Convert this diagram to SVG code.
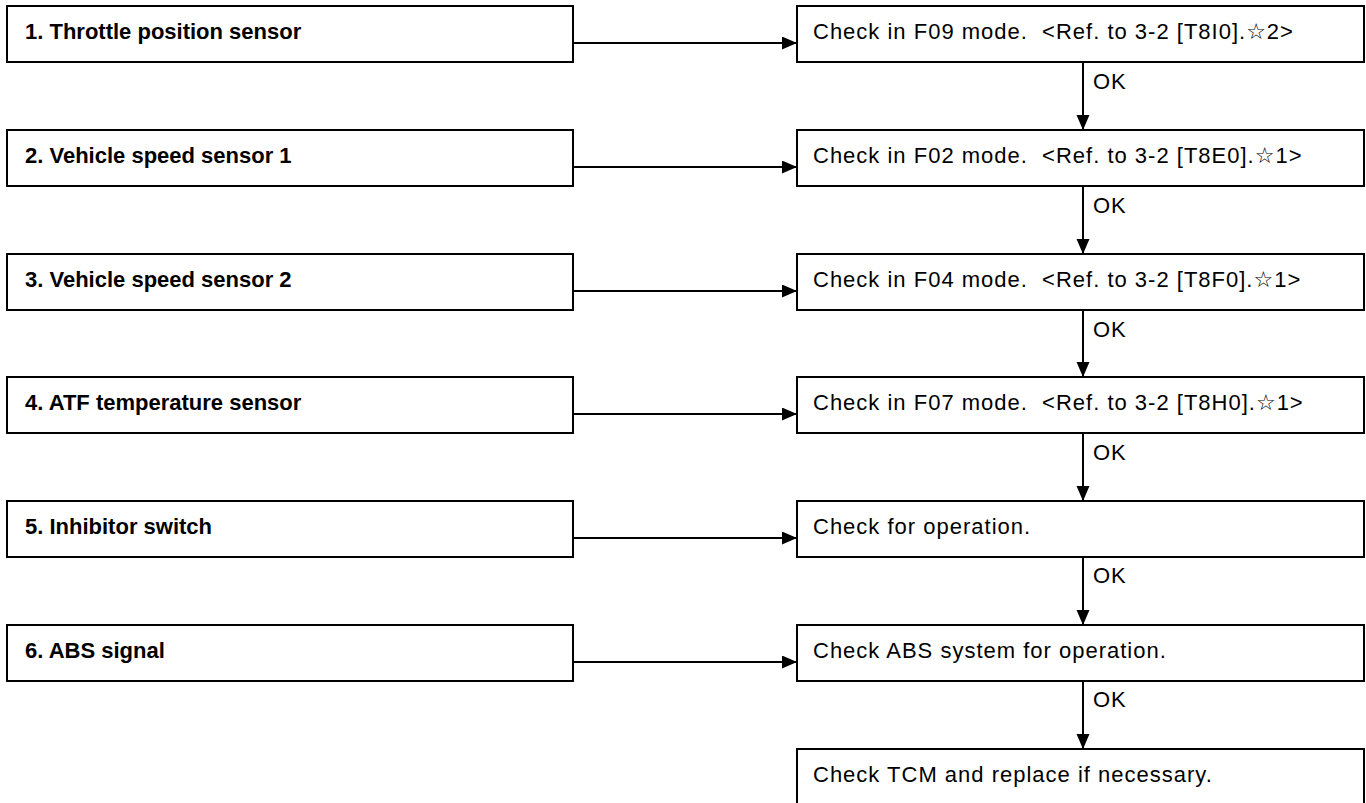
<svg xmlns="http://www.w3.org/2000/svg" width="1366" height="803" viewBox="0 0 1366 803">
<style>
.box{fill:#fff;stroke:#000;stroke-width:2}
.lt{font-family:"Liberation Sans","DejaVu Sans",Arial,sans-serif;font-size:22px;font-weight:bold;fill:#000}
.rt{font-family:"Liberation Sans","DejaVu Sans","Noto Sans CJK JP",Arial,sans-serif;font-size:22px;letter-spacing:1px;fill:#000;white-space:pre}
.ok{font-family:"Liberation Sans",Arial,sans-serif;font-size:22px;letter-spacing:1px;fill:#000}
.ln{stroke:#000;stroke-width:2;fill:none;marker-end:url(#ah)}
</style>
<defs>
<marker id="ah" markerUnits="userSpaceOnUse" markerWidth="16" markerHeight="14" refX="15" refY="6.5" orient="auto">
<path d="M0,0 L15,6.5 L0,13 Z" fill="#000"/>
</marker>
</defs>
<rect width="1366" height="803" fill="#fff"/>
<g id="connectors">
<line class="ln" x1="573" y1="43" x2="797" y2="43"/>
<line class="ln" x1="573" y1="167" x2="797" y2="167"/>
<line class="ln" x1="573" y1="291" x2="797" y2="291"/>
<line class="ln" x1="573" y1="414" x2="797" y2="414"/>
<line class="ln" x1="573" y1="538" x2="797" y2="538"/>
<line class="ln" x1="573" y1="662" x2="797" y2="662"/>
<line class="ln" x1="1083" y1="62" x2="1083" y2="130"/>
<line class="ln" x1="1083" y1="186" x2="1083" y2="254"/>
<line class="ln" x1="1083" y1="310" x2="1083" y2="377"/>
<line class="ln" x1="1083" y1="433" x2="1083" y2="501"/>
<line class="ln" x1="1083" y1="557" x2="1083" y2="625"/>
<line class="ln" x1="1083" y1="681" x2="1083" y2="749"/>
<text class="ok" x="1093" y="89">OK</text>
<text class="ok" x="1093" y="213">OK</text>
<text class="ok" x="1093" y="337">OK</text>
<text class="ok" x="1093" y="460">OK</text>
<text class="ok" x="1093" y="583">OK</text>
<text class="ok" x="1093" y="707">OK</text>
</g>
<g id="L1"><rect class="box" x="7" y="6" width="566" height="56"/><text class="lt" x="25" y="39">1. Throttle position sensor</text></g>
<g id="L2"><rect class="box" x="7" y="130" width="566" height="56"/><text class="lt" x="25" y="163">2. Vehicle speed sensor 1</text></g>
<g id="L3"><rect class="box" x="7" y="254" width="566" height="56"/><text class="lt" x="25" y="287">3. Vehicle speed sensor 2</text></g>
<g id="L4"><rect class="box" x="7" y="377" width="566" height="56"/><text class="lt" x="25" y="410">4. ATF temperature sensor</text></g>
<g id="L5"><rect class="box" x="7" y="501" width="566" height="56"/><text class="lt" x="25" y="534">5. Inhibitor switch</text></g>
<g id="L6"><rect class="box" x="7" y="625" width="566" height="56"/><text class="lt" x="25" y="658">6. ABS signal</text></g>
<g id="R1"><rect class="box" x="797" y="6" width="567" height="56"/><text class="rt" x="813" y="39">Check in F09 mode.  &lt;Ref. to 3-2 [T8I0].☆2&gt;</text></g>
<g id="R2"><rect class="box" x="797" y="130" width="567" height="56"/><text class="rt" x="813" y="163">Check in F02 mode.  &lt;Ref. to 3-2 [T8E0].☆1&gt;</text></g>
<g id="R3"><rect class="box" x="797" y="254" width="567" height="56"/><text class="rt" x="813" y="287">Check in F04 mode.  &lt;Ref. to 3-2 [T8F0].☆1&gt;</text></g>
<g id="R4"><rect class="box" x="797" y="377" width="567" height="56"/><text class="rt" x="813" y="410">Check in F07 mode.  &lt;Ref. to 3-2 [T8H0].☆1&gt;</text></g>
<g id="R5"><rect class="box" x="797" y="501" width="567" height="56"/><text class="rt" x="813" y="534">Check for operation.</text></g>
<g id="R6"><rect class="box" x="797" y="625" width="567" height="56"/><text class="rt" x="813" y="658">Check ABS system for operation.</text></g>
<g id="R7"><rect class="box" x="797" y="749" width="567" height="60"/><text class="rt" x="813" y="782">Check TCM and replace if necessary.</text></g>
</svg>
